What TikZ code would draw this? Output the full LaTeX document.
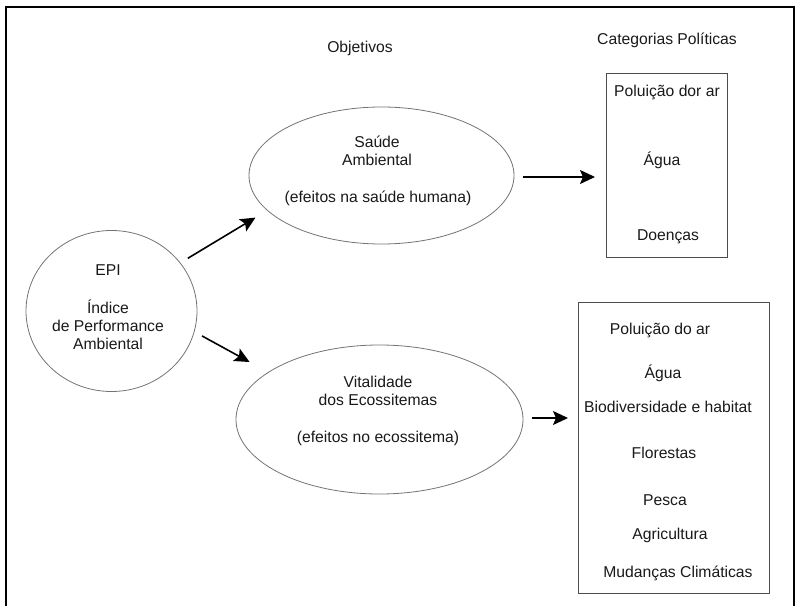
\documentclass[tikz,border=0pt]{standalone}
\usepackage{fontspec}
\setmainfont{Liberation Sans}
\usetikzlibrary{shapes.geometric,arrows.meta}
\begin{document}
\begin{tikzpicture}[x=1bp,y=-1bp,
  every node/.style={font=\fontsize{15.7bp}{18bp}\selectfont, text=black!90, inner sep=0pt, outer sep=0pt},
  oval/.style={ellipse, draw=black!55, line width=0.8bp},
  catbox/.style={rectangle, draw=black!70, line width=1bp},
  label/.style={align=center},
  arrow/.style={draw=black, line width=1.6bp, -{Stealth[length=15bp,width=14bp,inset=3bp]}}
]
\useasboundingbox (0,0) rectangle (796,606);

% outer frame (open at the bottom)
\draw[line width=2bp, black] (6,606) -- (6,7) -- (794,7) -- (794,606);

% column titles
\node[label] (tobj) at (360,48) {Objetivos};
\node[label] (tcat) at (667,40) {Categorias Políticas};

% EPI circle
\node[oval, minimum width=171bp, minimum height=161bp] (epi) at (111.5,311) {};
\node[label] (epit) at (108,270) {EPI};
\node[label] (epid) at (108,325) {Índice\\de Performance\\Ambiental};

% objectives
\node[oval, minimum width=265bp, minimum height=137bp] (saude) at (381.5,175.5) {};
\node[label] (saudet) at (377,151) {Saúde\\Ambiental};
\node[label] (saudes) at (378,198) {(efeitos na saúde humana)};

\node[oval, minimum width=287bp, minimum height=149bp] (vital) at (379.5,419.5) {};
\node[label] (vitalt) at (378,391) {Vitalidade\\dos Ecossitemas};
\node[label] (vitals) at (378,438) {(efeitos no ecossitema)};

% policy categories
\node[catbox, minimum width=121bp, minimum height=183bp] (box1) at (666.5,165.5) {};
\node[label] (b1a) at (667,92) {Poluição dor ar};
\node[label] (b1b) at (662,160) {Água};
\node[label] (b1c) at (668,237) {Doenças};

\node[catbox, minimum width=191bp, minimum height=290bp] (box2) at (673.5,448) {};
\node[label] (b2a) at (660,330) {Poluição do ar};
\node[label] (b2b) at (663,373) {Água};
\node[label] (b2c) at (668,407) {Biodiversidade e habitat};
\node[label] (b2d) at (664,453) {Florestas};
\node[label] (b2e) at (665,500) {Pesca};
\node[label] (b2f) at (670,535) {Agricultura};
\node[label] (b2g) at (678,573) {Mudanças Climáticas};

% connectors
\draw[arrow, shorten <=9bp, shorten >=14bp] (epi.35.8) -- (saude.197.75);
\draw[arrow, shorten <=9bp, shorten >=21.5bp] (epi.-14.2) -- (vital.157.1);
\draw[arrow, shorten <=9bp, shorten >=11bp] ([yshift=-1.5bp]saude.east) -- ([yshift=-1.5bp]saude.east -| box1.west);
\draw[arrow, shorten <=9bp, shorten >=10bp] ([yshift=1.5bp]vital.east) -- ([yshift=1.5bp]vital.east -| box2.west);
\end{tikzpicture}
\end{document}
